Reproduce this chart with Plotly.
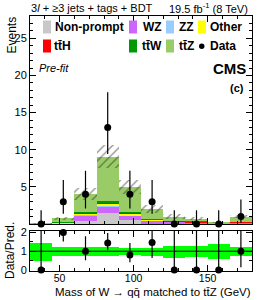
import plotly.graph_objects as go

# ---------------- data ----------------
bin_edges = [30, 45, 60, 75, 90, 105, 120, 135, 150, 165, 180]
nonprompt = [0.0, 0.0, 0.45, 1.45, 0.55, 0.05, 0.05, 0.0, 0.0, 0.0]
wz        = [0.0, 0.10, 0.65, 0.95, 0.55, 0.45, 0.25, 0.20, 0.05, 0.15]
zz        = [0.0, 0.0, 0.05, 0.08, 0.05, 0.02, 0.02, 0.01, 0.0, 0.01]
other     = [0.02, 0.05, 0.30, 0.25, 0.20, 0.10, 0.08, 0.05, 0.02, 0.10]
tth       = [0.0, 0.05, 0.10, 0.20, 0.15, 0.05, 0.05, 0.10, 0.02, 0.02]
ttw       = [0.0, 0.02, 0.05, 0.10, 0.05, 0.03, 0.02, 0.02, 0.01, 0.02]
ttz       = [0.03, 0.58, 2.40, 6.02, 3.45, 1.30, 0.53, 0.32, 0.10, 0.70]
syst_abs  = [0.03, 0.20, 0.80, 1.55, 0.90, 0.50, 0.30, 0.20, 0.08, 0.25]
data      = [0, 3, 4, 13, 4, 3, 0, 0, 0, 1]
data_lo   = [0.0, 1.37, 2.09, 9.41, 2.09, 1.37, 0.0, 0.0, 0.0, 0.17]
data_hi   = [1.84, 5.92, 7.16, 17.73, 7.16, 5.92, 1.84, 1.84, 1.84, 3.30]
ratio     = [0.0, 2.0, 1.0, 1.44, 0.80, 1.46, 0.0, 0.0, 0.0, 1.0]
ratio_lo  = [0.0, 1.52, 0.52, 1.05, 0.42, 0.64, 0.0, 0.0, 0.0, 0.15]
ratio_hi  = [3.0, 3.0, 1.79, 1.97, 1.43, 3.0, 3.0, 3.0, 3.0, 3.0]
ratio_rel_unc = [0.48, 0.24, 0.24, 0.24, 0.18, 0.22, 0.32, 0.30, 0.40, 0.25]

samples = [
    ("Non-prompt", nonprompt, "#c8c8c8"),
    ("WZ", wz, "#cc66ff"),
    ("ZZ", zz, "#99ccff"),
    ("Other", other, "#ffff00"),
    ("tt\u0304H", tth, "#ff0000"),
    ("tt\u0304W", ttw, "#009900"),
    ("tt\u0304Z", ttz, "#99cc66"),
]

# ---------------- geometry ----------------
W, H = 266, 300
ML, MR, MT, MB = 30, 14, 16, 29
PW, PH = W - ML - MR, H - MT - MB


def px(xp):
    return (xp - ML) / PW


def py(yp):
    return (H - MB - yp) / PH


centers = [(a + b) / 2 for a, b in zip(bin_edges[:-1], bin_edges[1:])]
widths = [b - a for a, b in zip(bin_edges[:-1], bin_edges[1:])]
FONT = "Liberation Sans, Arial, Helvetica, sans-serif"

fig = go.Figure()

# stacked histogram
base = [0.0] * len(centers)
for name, vals, col in samples:
    fig.add_trace(go.Bar(x=centers, y=vals, base=list(base), width=widths,
                         marker=dict(color=col, line=dict(width=0)),
                         xaxis="x", yaxis="y", showlegend=False, name=name))
    base = [b + v for b, v in zip(base, vals)]
total = base

# hatched uncertainty
fig.add_trace(go.Bar(x=centers, y=[2 * u for u in syst_abs],
                     base=[t - u for t, u in zip(total, syst_abs)], width=widths,
                     marker=dict(color="rgba(0,0,0,0)", line=dict(width=0),
                                 pattern=dict(shape="/", fgcolor="#222222",
                                              bgcolor="rgba(0,0,0,0)", size=6,
                                              solidity=0.22)),
                     xaxis="x", yaxis="y", showlegend=False))

# data
fig.add_trace(go.Scatter(x=centers, y=data, mode="markers",
                         marker=dict(color="black", size=7),
                         error_y=dict(type="data", symmetric=False,
                                      array=[h - d for h, d in zip(data_hi, data)],
                                      arrayminus=[d - l for d, l in zip(data, data_lo)],
                                      color="black", thickness=1.2, width=0),
                         cliponaxis=False, xaxis="x", yaxis="y", showlegend=False))

# ratio band
fig.add_trace(go.Bar(x=centers, y=[2 * r for r in ratio_rel_unc],
                     base=[1 - r for r in ratio_rel_unc], width=widths,
                     marker=dict(color="#00ff00", line=dict(width=0)),
                     xaxis="x2", yaxis="y2", showlegend=False))
# ratio error bars (clipped)
fig.add_trace(go.Scatter(x=centers, y=ratio, mode="markers",
                         marker=dict(color="black", size=1, opacity=0),
                         error_y=dict(type="data", symmetric=False,
                                      array=[h - r for h, r in zip(ratio_hi, ratio)],
                                      arrayminus=[r - l for r, l in zip(ratio, ratio_lo)],
                                      color="black", thickness=1.2, width=0),
                         cliponaxis=True, xaxis="x2", yaxis="y2", showlegend=False))
fig.add_trace(go.Scatter(x=centers, y=ratio, mode="markers",
                         marker=dict(color="black", size=7),
                         cliponaxis=False, xaxis="x2", yaxis="y2", showlegend=False))

main_bottom = py(224)
ratio_top = py(230.5)

axis_common = dict(showline=True, linecolor="black", linewidth=1, mirror="ticks",
                   ticks="inside", tickcolor="black", showgrid=False, zeroline=False,
                   tickfont=dict(family=FONT, size=11, color="black"))

fig.update_layout(
    width=W, height=H,
    margin=dict(l=ML, r=MR, t=MT, b=MB, pad=0),
    paper_bgcolor="white", plot_bgcolor="white",
    barmode="overlay", bargap=0,
    font=dict(family=FONT, color="black"),
    xaxis=dict(domain=[0, 1], range=[30, 180], anchor="y", tickvals=[50, 100, 150],
               showticklabels=False, ticklen=6,
               minor=dict(dtick=10, tick0=0, ticklen=3, ticks="inside", tickcolor="black"),
               **axis_common),
    yaxis=dict(domain=[main_bottom, 1], range=[0, 28], anchor="x",
               tickvals=[5, 10, 15, 20, 25], ticklen=6,
               minor=dict(dtick=1, tick0=0, ticklen=3, ticks="inside", tickcolor="black"),
               **axis_common),
    xaxis2=dict(domain=[0, 1], range=[30, 180], anchor="y2", matches="x",
                tickvals=[50, 100, 150], ticklen=6, ticklabelstandoff=-3,
                minor=dict(dtick=10, tick0=0, ticklen=3, ticks="inside", tickcolor="black"),
                showline=True, linecolor="black", linewidth=1, mirror="ticks",
                ticks="inside", tickcolor="black", showgrid=False, zeroline=False,
                tickfont=dict(family=FONT, size=10.5, color="black")),
    yaxis2=dict(domain=[0, ratio_top], range=[-0.05, 2.1], anchor="x2",
                tickvals=[0, 1, 2], ticklen=6,
                minor=dict(dtick=0.5, tick0=0, ticklen=3, ticks="inside", tickcolor="black"),
                **axis_common),
)

fig.add_shape(type="line", xref="x2 domain", yref="y2", x0=0, x1=1, y0=1, y1=1,
              line=dict(color="black", width=1))

annots = []


def txt(x, y, s, size=11, xanchor="left", yanchor="middle", **kw):
    annots.append(dict(x=px(x), y=py(y), xref="paper", yref="paper", text=s,
                       showarrow=False, xanchor=xanchor, yanchor=yanchor,
                       font=dict(family=FONT, size=size, color="black"), **kw))


txt(29, 8, "3<i>l</i> + \u22653 jets + tags + BDT", size=11)
txt(250, 8, "19.5 fb<sup>-1</sup> (8 TeV)", size=11, xanchor="right")
txt(11, 15, "Events", size=12, xanchor="center", yanchor="top", textangle=-90)
txt(10, 251, "Data/Pred.", size=12, xanchor="center", textangle=-90)
txt(253, 300, "Mass of W \u2192 qq\u0304 matched to tt\u0304Z (GeV)", size=11.5,
    xanchor="right", yanchor="bottom")
txt(37, 68, "<i>Pre-fit</i>", size=11)
txt(248, 68, "<b>CMS</b>", size=15, xanchor="right")
txt(246, 88, "<b>(c)</b>", size=11, xanchor="right")

# legend
leg = [
    (samples[0], 43, 27, 53),
    (samples[1], 129, 27, 141),
    (samples[2], 166, 27, 177),
    (samples[3], 198, 27, 208),
    (samples[4], 43, 46, 52),
    (samples[5], 129, 46, 140),
    (samples[6], 166, 46, 177),
]
for (name, _, col), bx, byc, tx in leg:
    fig.add_shape(type="rect", xref="paper", yref="paper",
                  x0=px(bx), x1=px(bx + 8), y0=py(byc + 6.5), y1=py(byc - 6.5),
                  fillcolor=col, line=dict(width=0))
    txt(tx, byc, "<b>" + name + "</b>", size=12)
fig.add_shape(type="circle", xref="paper", yref="paper",
              x0=px(199), x1=px(204.5), y0=py(49), y1=py(43.5),
              fillcolor="black", line=dict(width=0))
txt(208, 46, "<b>Data</b>", size=12)

fig.update_layout(annotations=annots)
fig.write_html("out.html", config={"displayModeBar": False},
               post_script="document.body.style.margin='0';document.body.style.padding='0';")
